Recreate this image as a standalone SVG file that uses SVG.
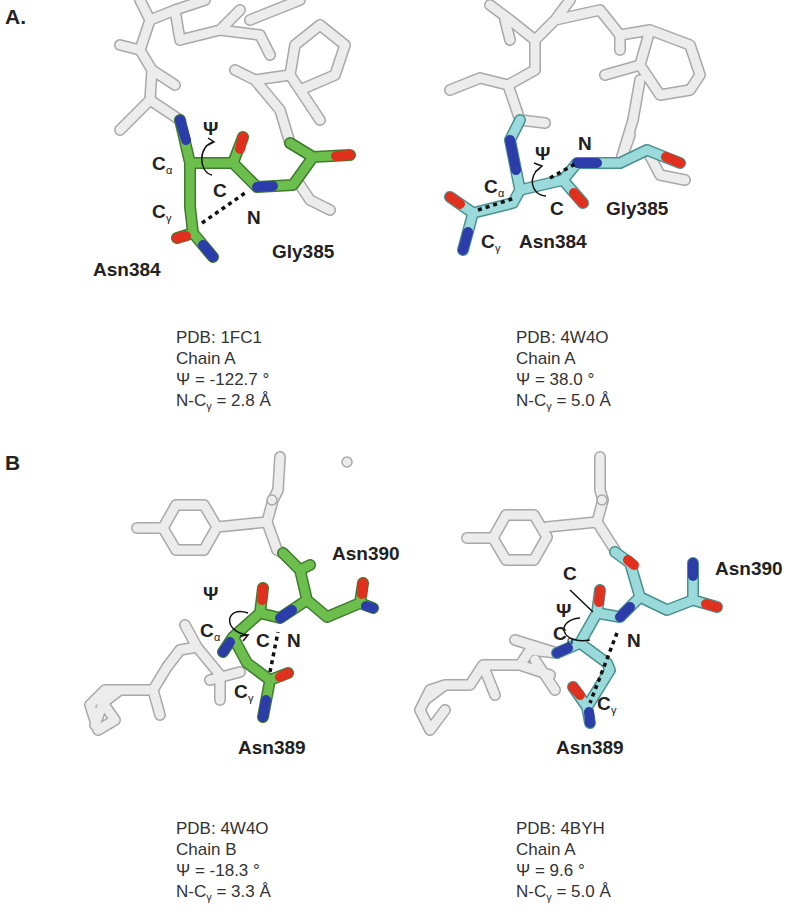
<svg xmlns="http://www.w3.org/2000/svg" width="800" height="914" viewBox="0 0 800 914">
<style>
.o{fill:none;stroke:#a8a8a8;stroke-width:12;stroke-linecap:round;stroke-linejoin:round}
.w{fill:none;stroke:#ececec;stroke-width:9;stroke-linecap:round;stroke-linejoin:round}
.og{fill:none;stroke:#3f7a2e;stroke-width:12;stroke-linecap:round;stroke-linejoin:round}
.g{fill:none;stroke:#6cbf4c;stroke-width:9;stroke-linecap:round;stroke-linejoin:round}
.oc{fill:none;stroke:#4a9090;stroke-width:12;stroke-linecap:round;stroke-linejoin:round}
.c{fill:none;stroke:#9adada;stroke-width:9;stroke-linecap:round;stroke-linejoin:round}
.b{fill:none;stroke:#2c3ca8;stroke-width:10;stroke-linecap:round}
.r{fill:none;stroke:#e0301e;stroke-width:10;stroke-linecap:round}
.d{fill:none;stroke:#111;stroke-width:3.5;stroke-dasharray:4 4}
.k{fill:none;stroke:#111;stroke-width:1.5}
text{font-family:"Liberation Sans",Arial,sans-serif;fill:#222}
.l{font-weight:bold;font-size:19px}
.a{font-size:17px;fill:#333}
.s{font-size:11px}
.h{font-weight:bold;font-size:21px}
</style>
<g id="scaffoldA1">
<path class="o" d="M180 120 L150 100 L152 70 L140 50 L150 20 L175 10 M150 100 L120 130 M152 70 L175 85 M140 50 L120 45 M150 20 L140 0 M175 10 L205 0 M175 10 L180 40 L220 30 L240 10 M220 30 L260 35 M250 20 L300 0 M260 35 L270 55 M290 143 L280 110 L255 80 L235 70 M255 80 L290 75 L295 45 L320 25 L345 45 L335 75 L300 90 L290 75 M300 90 L320 120 M300 185 L310 200 L330 210"/>
<path class="w" d="M180 120 L150 100 L152 70 L140 50 L150 20 L175 10 M150 100 L120 130 M152 70 L175 85 M140 50 L120 45 M150 20 L140 0 M175 10 L205 0 M175 10 L180 40 L220 30 L240 10 M220 30 L260 35 M250 20 L300 0 M260 35 L270 55 M290 143 L280 110 L255 80 L235 70 M255 80 L290 75 L295 45 L320 25 L345 45 L335 75 L300 90 L290 75 M300 90 L320 120 M300 185 L310 200 L330 210"/>
</g>
<g id="residueA1">
<path class="og" d="M180 120 L190 163 L233 163 L257 187 L293 185 L313 157 L350 155 M313 157 L290 143 M233 163 L243 137 M190 163 L190 207 L193 233 L177 238 M193 233 L213 257"/>
<path class="g" d="M180 120 L190 163 L233 163 L257 187 L293 185 L313 157 L350 155 M313 157 L290 143 M233 163 L243 137 M190 163 L190 207 L193 233 L177 238 M193 233 L213 257"/>
<path class="b" d="M180 120 L186 140 M257 187 L273 186 M213 257 L203 245"/>
<path class="r" d="M243 137 L240 149 M350 155 L336 156 M177 238 L186 236"/>
<path class="d" d="M202 223 L245 193"/>
<path class="k" d="M214 142 C198 145 198 172 212 175 M206 146 L214 142 L208 138"/>
</g>
<g id="labelsA1">
<text class="h" x="5" y="24">A.</text>
<text class="l" x="203" y="135">Ψ</text>
<text class="l" x="152" y="170">C</text><text class="s" x="166" y="174">α</text>
<text class="l" x="152" y="218">C</text><text class="s" x="166" y="222">γ</text>
<text class="l" x="213" y="197">C</text>
<text class="l" x="247" y="224">N</text>
<text class="l" x="272" y="258">Gly385</text>
<text class="l" x="93" y="276">Asn384</text>
<text class="a" x="176" y="343">PDB: 1FC1</text>
<text class="a" x="176" y="364">Chain A</text>
<text class="a" x="176" y="385">Ψ = -122.7 °</text>
<text class="a" x="176" y="406">N-C<tspan class="s" dy="4">γ</tspan><tspan dy="-4"> = 2.8 Å</tspan></text>
</g>
<g id="scaffoldA2">
<path class="o" d="M520 120 L508 85 L480 78 L450 90 M508 85 L535 70 L535 40 L510 20 L490 5 M535 40 L555 20 L570 0 M555 20 L600 10 L620 35 L650 30 L690 45 L700 75 L690 90 L660 95 L640 65 L650 30 M620 35 L620 50 M640 65 L605 75 M640 80 L633 120 L620 163 M520 120 L545 123 M505 20 L510 40 M620 163 L630 135 M647 150 L660 175 L685 180"/>
<path class="w" d="M520 120 L508 85 L480 78 L450 90 M508 85 L535 70 L535 40 L510 20 L490 5 M535 40 L555 20 L570 0 M555 20 L600 10 L620 35 L650 30 L690 45 L700 75 L690 90 L660 95 L640 65 L650 30 M620 35 L620 50 M640 65 L605 75 M640 80 L633 120 L620 163 M520 120 L545 123 M505 20 L510 40 M620 163 L630 135 M647 150 L660 175 L685 180"/>
</g>
<g id="residueA2">
<path class="oc" d="M520 120 L510 140 L520 190 L563 180 L583 203 M563 180 L577 163 L620 163 L647 150 L680 163 M520 190 L513 203 L473 213 L450 197 M473 213 L463 250"/>
<path class="c" d="M520 120 L510 140 L520 190 L563 180 L583 203 M563 180 L577 163 L620 163 L647 150 L680 163 M520 190 L513 203 L473 213 L450 197 M473 213 L463 250"/>
<path class="b" d="M510 140 L516 170 M577 163 L597 163 M463 250 L468 232"/>
<path class="r" d="M583 203 L574 193 M680 163 L666 157 M450 197 L460 204"/>
<path class="d" d="M478 210 L515 198 M550 178 L577 163"/>
<path class="k" d="M540 168 C528 175 530 195 546 196 M535 172 L542 166 L534 163"/>
</g>
<g id="labelsA2">
<text class="l" x="535" y="160">Ψ</text>
<text class="l" x="578" y="150">N</text>
<text class="l" x="484" y="193">C</text><text class="s" x="498" y="197">α</text>
<text class="l" x="550" y="215">C</text>
<text class="l" x="606" y="215">Gly385</text>
<text class="l" x="481" y="248">C</text><text class="s" x="495" y="252">γ</text>
<text class="l" x="519" y="248">Asn384</text>
<text class="a" x="516" y="343">PDB: 4W4O</text>
<text class="a" x="516" y="364">Chain A</text>
<text class="a" x="516" y="385">Ψ = 38.0 °</text>
<text class="a" x="516" y="406">N-C<tspan class="s" dy="4">γ</tspan><tspan dy="-4"> = 5.0 Å</tspan></text>
</g>
<g id="scaffoldB1">
<path class="o" d="M280 457 L278 490 L273 500 L267 522 L277 550 L283 553 M267 522 L217 527 M163 528 L137 528 M176 505 L204 505 L217 527 L204 550 L176 550 L163 528 Z M197 647 L180 650 L167 667 L153 690 L120 690 L103 703 L95 725 M153 690 L160 715 M197 647 L185 625 M197 647 L220 675 L220 700 M210 680 L240 672 M120 690 L105 690 L90 705 L98 730 L115 720 L103 703"/>
<path class="w" d="M280 457 L278 490 L273 500 L267 522 L277 550 L283 553 M267 522 L217 527 M163 528 L137 528 M176 505 L204 505 L217 527 L204 550 L176 550 L163 528 Z M197 647 L180 650 L167 667 L153 690 L120 690 L103 703 L95 725 M153 690 L160 715 M197 647 L185 625 M197 647 L220 675 L220 700 M210 680 L240 672 M120 690 L105 690 L90 705 L98 730 L115 720 L103 703"/>
<circle cx="347" cy="462" r="5" fill="#ececec" stroke="#a8a8a8" stroke-width="1.5"/>
<circle cx="272" cy="500" r="5" fill="#ececec" stroke="#a8a8a8" stroke-width="1.5"/>
</g>
<g id="residueB1">
<path class="og" d="M223 652 L233 637 L260 613 L280 618 L307 600 L300 570 L283 553 M260 613 L263 588 M307 600 L327 617 L360 603 L363 583 M360 603 L373 608 M233 637 L247 663 L270 680 L288 673 M270 680 L263 717 M300 570 L310 565"/>
<path class="g" d="M223 652 L233 637 L260 613 L280 618 L307 600 L300 570 L283 553 M260 613 L263 588 M307 600 L327 617 L360 603 L363 583 M360 603 L373 608 M233 637 L247 663 L270 680 L288 673 M270 680 L263 717 M300 570 L310 565"/>
<path class="b" d="M223 652 L230 642 M280 618 L292 610 M263 717 L266 700 M373 608 L366 606"/>
<path class="r" d="M263 588 L262 600 M363 583 L362 594 M288 673 L280 677"/>
<path class="d" d="M270 672 L278 632"/>
<path class="k" d="M248 613 C225 605 222 632 248 635 M240 636 L248 635 L243 641"/>
</g>
<g id="labelsB1">
<text class="h" x="5" y="470">B</text>
<text class="l" x="203" y="600">Ψ</text>
<text class="l" x="200" y="637">C</text><text class="s" x="214" y="641">α</text>
<text class="l" x="256" y="647">C</text>
<text class="l" x="287" y="647">N</text>
<text class="l" x="234" y="698">C</text><text class="s" x="248" y="702">γ</text>
<text class="l" x="238" y="754">Asn389</text>
<text class="l" x="332" y="560">Asn390</text>
<text class="a" x="176" y="834">PDB: 4W4O</text>
<text class="a" x="176" y="855">Chain B</text>
<text class="a" x="176" y="876">Ψ = -18.3 °</text>
<text class="a" x="176" y="897">N-C<tspan class="s" dy="4">γ</tspan><tspan dy="-4"> = 3.3 Å</tspan></text>
</g>
<g id="scaffoldB2">
<path class="o" d="M600 457 L600 490 L603 500 L597 522 L615 550 M597 522 L547 527 M493 538 L467 538 M506 515 L534 515 L547 537 L534 560 L506 560 L493 538 Z M557 653 L530 650 L520 665 L483 665 L470 685 L445 685 L425 700 M483 665 L495 695 M557 653 L515 640 M535 660 L555 690 M520 665 L550 675 M445 685 L430 690 L420 710 L430 730 L445 710"/>
<path class="w" d="M600 457 L600 490 L603 500 L597 522 L615 550 M597 522 L547 527 M493 538 L467 538 M506 515 L534 515 L547 537 L534 560 L506 560 L493 538 Z M557 653 L530 650 L520 665 L483 665 L470 685 L445 685 L425 700 M483 665 L495 695 M557 653 L515 640 M535 660 L555 690 M520 665 L550 675 M445 685 L430 690 L420 710 L430 730 L445 710"/>
<circle cx="602" cy="500" r="5" fill="#ececec" stroke="#a8a8a8" stroke-width="1.5"/>
</g>
<g id="residueB2">
<path class="oc" d="M557 653 L580 643 L597 613 L620 617 L640 597 L630 563 L615 552 M597 613 L600 590 M640 597 L667 610 L693 600 L693 563 M693 600 L717 607 M580 643 L607 663 L610 670 L587 707 L573 687 M587 707 L590 723"/>
<path class="c" d="M557 653 L580 643 L597 613 L620 617 L640 597 L630 563 L615 552 M597 613 L600 590 M640 597 L667 610 L693 600 L693 563 M693 600 L717 607 M580 643 L607 663 L610 670 L587 707 L573 687 M587 707 L590 723"/>
<path class="b" d="M557 653 L568 648 M620 617 L630 607 M693 563 L693 576 M590 723 L589 712"/>
<path class="r" d="M600 590 L599 602 M717 607 L706 604 M573 687 L580 695 M634 565 L628 560"/>
<path class="d" d="M617 633 L590 703"/>
<path class="k" d="M570 590 L593 612 M580 618 C555 620 560 645 590 640"/>
</g>
<g id="labelsB2">
<text class="l" x="563" y="580">C</text>
<text class="l" x="556" y="617">Ψ</text>
<text class="l" x="553" y="640">C</text><text class="s" x="567" y="644">α</text>
<text class="l" x="627" y="647">N</text>
<text class="l" x="597" y="710">C</text><text class="s" x="611" y="714">γ</text>
<text class="l" x="556" y="754">Asn389</text>
<text class="l" x="715" y="575">Asn390</text>
<text class="a" x="516" y="834">PDB: 4BYH</text>
<text class="a" x="516" y="855">Chain A</text>
<text class="a" x="516" y="876">Ψ = 9.6 °</text>
<text class="a" x="516" y="897">N-C<tspan class="s" dy="4">γ</tspan><tspan dy="-4"> = 5.0 Å</tspan></text>
</g>
</svg>
